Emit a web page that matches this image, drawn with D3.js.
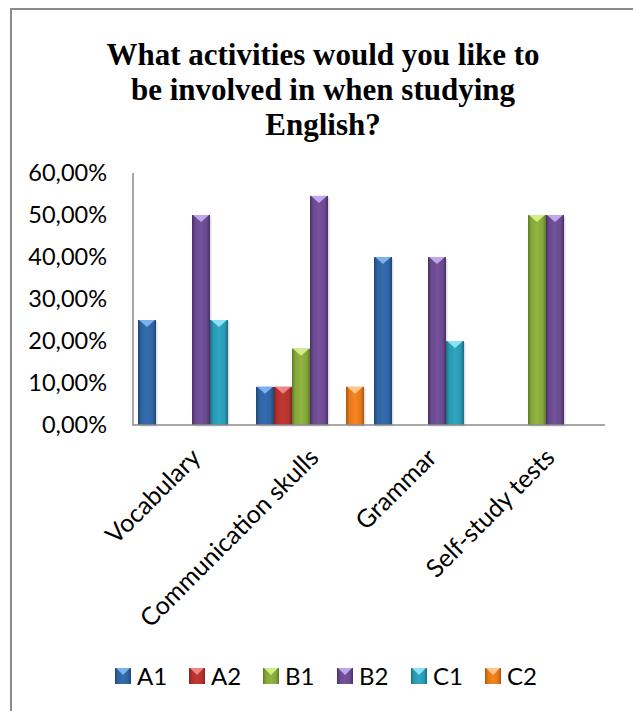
<!DOCTYPE html>
<html>
<head>
<meta charset="utf-8">
<script src="https://cdn.jsdelivr.net/npm/d3@7"></script>
<style>
  body { margin: 0; background: #fff; }
  svg { display: block; }
  .title { font-family: 'Times New Roman', 'Liberation Serif', Tinos, serif; font-weight: bold; font-size: 31px; }
  .lbl { font-family: Lato, 'Open Sans', sans-serif; }
</style>
</head>
<body>
<div id="chart_container"></div>
<script>

var categories = ['Vocabulary', 'Communication skulls', 'Grammar', 'Self-study tests']
var series_names = ['A1', 'A2', 'B1', 'B2', 'C1', 'C2']

// share of answers per level, one value per category
var a1_values = [0.25, 0.0909, 0.40, 0]
var a2_values = [0, 0.0909, 0, 0]
var b1_values = [0, 0.1818, 0, 0.50]
var b2_values = [0.50, 0.5455, 0.40, 0.50]
var c1_values = [0.25, 0, 0.20, 0]
var c2_values = [0, 0.0909, 0, 0]

var y_ticks = [0, 0.1, 0.2, 0.3, 0.4, 0.5, 0.6]

var title_lines = ['What activities would you like to', 'be involved in when studying', 'English?']

// base, edge and top-facet colours per series
var series_base = ['#2f63a0', '#b3322f', '#84a63a', '#6a4a8f', '#2a98b1', '#e2791b']
var series_edge = ['#1e4675', '#832220', '#5c7a25', '#473063', '#1b6c80', '#a8560f']
var series_top = ['#7db0ec', '#ee8582', '#d2ee86', '#c0a6ea', '#8be2f5', '#ffc88a']

var all_values = [a1_values, a2_values, b1_values, b2_values, c1_values, c2_values]

var width = 633
var height = 711

var svg = d3.select('div#chart_container').append('svg')
  .attr('width', width)
  .attr('height', height)

var defs = svg.append('defs')

series_names.forEach(function(name, i) {
  var grad = defs.append('linearGradient')
    .attr('id', 'grad_' + name)
    .attr('x1', 0).attr('y1', 0)
    .attr('x2', 1).attr('y2', 0)
  ;[[0, series_edge[i]], [0.18, series_base[i]], [0.5, d3.color(series_base[i]).brighter(0.25)], [0.82, series_base[i]], [1, series_edge[i]]].forEach(function(s) {
    grad.append('stop').attr('offset', s[0]).attr('stop-color', s[1])
  })
})

// outer frame
svg.append('path')
  .attr('d', 'M11,' + height + 'V9H' + width)
  .attr('fill', 'none')
  .attr('stroke', '#8a8a8a')
  .attr('stroke-width', 2)

// title
svg.append('text')
  .attr('class', 'title')
  .attr('x', 323)
  .attr('y', 65)
  .attr('text-anchor', 'middle')
  .selectAll('tspan')
  .data(title_lines)
  .enter().append('tspan')
  .attr('x', 323)
  .attr('dy', function(d, i) { return i === 0 ? 0 : 35 })
  .text(function(d) { return d })

var plot_left = 133
var plot_right = 605
var plot_top = 173
var plot_bottom = 425

var x0 = d3.scaleBand()
  .domain(categories)
  .range([plot_left, plot_right])

var x1 = d3.scaleBand()
  .domain(series_names)
  .range([5, x0.bandwidth() - 5])

var y = d3.scaleLinear()
  .domain([0, 0.6])
  .range([plot_bottom, plot_top])

var locale = d3.formatLocale({ decimal: ',', thousands: '.', grouping: [3], currency: ['', ''] })
var pct = locale.format('.2%')

// y axis labels
svg.append('g')
  .selectAll('text')
  .data(y_ticks)
  .enter().append('text')
  .attr('class', 'lbl')
  .attr('x', 107)
  .attr('y', function(d) { return y(d) })
  .attr('dy', '0.36em')
  .attr('text-anchor', 'end')
  .style('font-size', '23.5px')
  .attr('fill', '#000')
  .text(function(d) { return pct(d) })

// bars
var bar_data = []
series_names.forEach(function(name, i) {
  all_values[i].forEach(function(v, j) {
    if (v > 0) bar_data.push({ series: name, index: i, category: categories[j], value: v })
  })
})

var bars = svg.append('g')
  .selectAll('g')
  .data(bar_data)
  .enter().append('g')
  .attr('transform', function(d) { return 'translate(' + (x0(d.category) + x1(d.series)) + ',0)' })

var bw = x1.bandwidth()

// soft shadow
bars.append('rect')
  .attr('x', 1.5)
  .attr('y', function(d) { return y(d.value) + 1.5 })
  .attr('width', bw)
  .attr('height', function(d) { return plot_bottom - y(d.value) })
  .attr('fill', '#000')
  .attr('fill-opacity', 0.12)

bars.append('rect')
  .attr('x', 0)
  .attr('y', function(d) { return y(d.value) })
  .attr('width', bw)
  .attr('height', function(d) { return plot_bottom - y(d.value) })
  .attr('fill', function(d) { return 'url(#grad_' + d.series + ')' })

bars.append('path')
  .attr('d', function(d) {
    var t = y(d.value)
    return 'M1,' + t + 'L' + (bw - 1) + ',' + t + 'L' + (bw / 2) + ',' + (t + 7) + 'Z'
  })
  .attr('fill', function(d) { return series_top[d.index] })

// axis lines
svg.append('path')
  .attr('d', 'M' + plot_left + ',' + plot_top + 'V' + plot_bottom + 'H' + plot_right)
  .attr('fill', 'none')
  .attr('stroke', '#8c8c8c')
  .attr('stroke-width', 1.5)

// category labels, rotated
svg.append('g')
  .selectAll('text')
  .data(categories)
  .enter().append('text')
  .attr('class', 'lbl')
  .attr('transform', function(d) {
    return 'translate(' + (x0(d) + x0.bandwidth() / 2 + 1) + ',450) rotate(-45)'
  })
  .attr('text-anchor', 'end')
  .attr('dy', '0.52em')
  .style('font-size', '25px')
  .attr('fill', '#000')
  .text(function(d) { return d })

// legend
var legend = svg.append('g')
  .selectAll('g')
  .data(series_names)
  .enter().append('g')
  .attr('transform', function(d, i) { return 'translate(' + (115 + i * 74) + ',668)' })

legend.append('rect')
  .attr('width', 16)
  .attr('height', 16)
  .attr('fill', function(d) { return 'url(#grad_' + d + ')' })

legend.append('path')
  .attr('d', 'M1,0L15,0L8,7Z')
  .attr('fill', function(d, i) { return series_top[i] })

legend.append('text')
  .attr('class', 'lbl')
  .attr('x', 22)
  .attr('y', 8)
  .attr('dy', '0.36em')
  .style('font-size', '24px')
  .attr('fill', '#000')
  .text(function(d) { return d })

</script>
</body>
</html>
